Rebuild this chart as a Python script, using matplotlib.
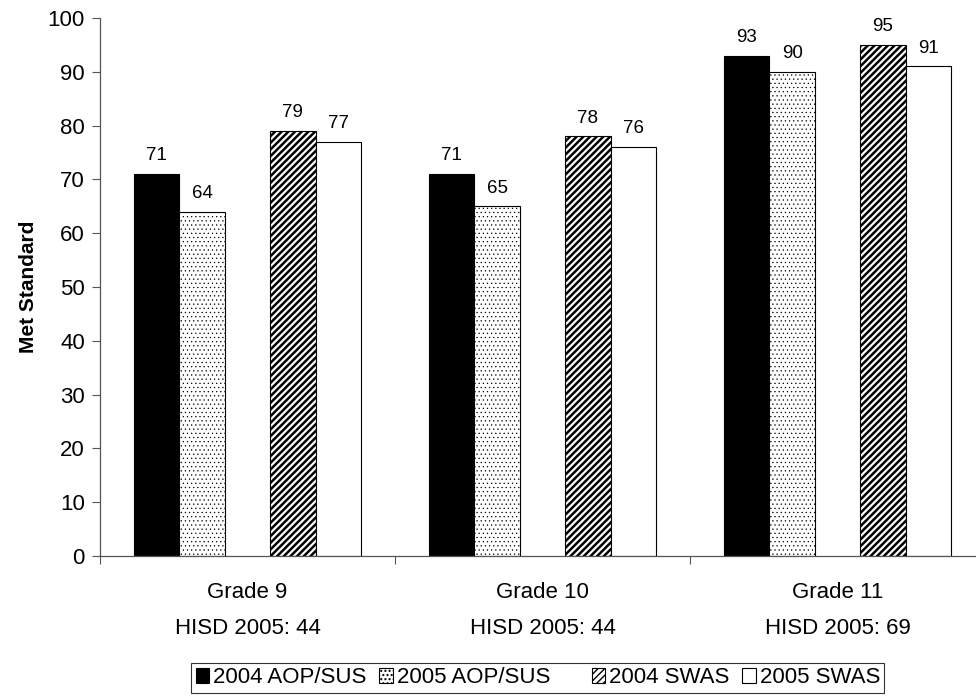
import numpy as np
import matplotlib
matplotlib.use("Agg")
import matplotlib.pyplot as plt
from matplotlib.patches import Rectangle

plt.rcParams["font.family"] = ["Liberation Sans", "DejaVu Sans"]
plt.rcParams["hatch.color"] = "black"

# ── data ────────────────────────────────────────────────────────────────────
grades = ["Grade 9", "Grade 10", "Grade 11"]
hisd_2005 = [44, 44, 69]
aop_2004 = [71, 71, 93]
aop_2005 = [64, 65, 90]
swas_2004 = [79, 78, 95]
swas_2005 = [77, 76, 91]
yticks = list(range(0, 101, 10))

# label, values, style, slot (slot 0 is an empty series, as in the original)
series = [
    ("2004 AOP/SUS", aop_2004, dict(facecolor="black", hatch=None), -2, 0),
    ("2005 AOP/SUS", aop_2005, dict(facecolor="white", hatch="...."), -1, 0.4),
    ("2004 SWAS", swas_2004, dict(facecolor="white", hatch="/////"), 1, 1.8),
    ("2005 SWAS", swas_2005, dict(facecolor="white", hatch=None), 2, 0),
]

fig = plt.figure(figsize=(9.76, 6.98), dpi=100)
ax = fig.add_axes([0.1025, 0.2034, 0.9068, 0.7708])

x = np.arange(len(grades))
width = 1 / 6.5

handles = {}
for label, vals, style, slot, hlw in series:
    bars = ax.bar(x + slot * width, vals, width, edgecolor="black",
                  linewidth=0.8, label=label, **style)
    if hlw and hasattr(bars[0], "set_hatch_linewidth"):
        for b in bars:
            b.set_hatch_linewidth(hlw)
    handles[label] = bars
    for xi, v in zip(x + slot * width, vals):
        ax.annotate(str(v), (xi, v), xytext=(0, 7), textcoords="offset points",
                    ha="center", va="bottom", fontsize=13.5)

ax.set_xlim(-0.5, 2.5)
ax.set_ylim(0, 100)
ax.set_yticks(yticks)
ax.tick_params(axis="y", labelsize=16, length=6, width=0.8, color="#555555", pad=5)
ax.set_xticks([-0.5, 0.5, 1.5, 2.5])
ax.tick_params(axis="x", length=6, width=0.8, color="#555555", labelbottom=False)
for side in ("top", "right"):
    ax.spines[side].set_visible(False)
for side in ("left", "bottom"):
    ax.spines[side].set_color("#555555")
    ax.spines[side].set_linewidth(0.9)

for xi, g, h in zip(x, grades, hisd_2005):
    ax.text(xi, -0.067, g, transform=ax.get_xaxis_transform(),
            ha="center", va="center", fontsize=16)
    ax.text(xi, -0.134, f"HISD 2005: {h}", transform=ax.get_xaxis_transform(),
            ha="center", va="center", fontsize=16)

fig.text(0.0287, 0.589, "Met Standard", rotation=90, ha="center", va="center",
         fontsize=15, fontweight="bold")

blank = Rectangle((0, 0), 1, 1, facecolor="none", edgecolor="none")
leg_handles = [handles["2004 AOP/SUS"], handles["2005 AOP/SUS"], blank,
               handles["2004 SWAS"], handles["2005 SWAS"]]
leg_labels = ["2004 AOP/SUS", "2005 AOP/SUS", "", "2004 SWAS", "2005 SWAS"]
leg = fig.legend(leg_handles, leg_labels, loc="center", bbox_to_anchor=(0.551, 0.0287),
                 ncol=5, fontsize=16, frameon=True, fancybox=False,
                 handlelength=0.62, handleheight=0.62, handletextpad=0.18,
                 columnspacing=0.54, borderpad=0.2, borderaxespad=0)
leg.get_frame().set_edgecolor("black")
leg.get_frame().set_linewidth(0.8)

fig.savefig("out.png", dpi=100)
